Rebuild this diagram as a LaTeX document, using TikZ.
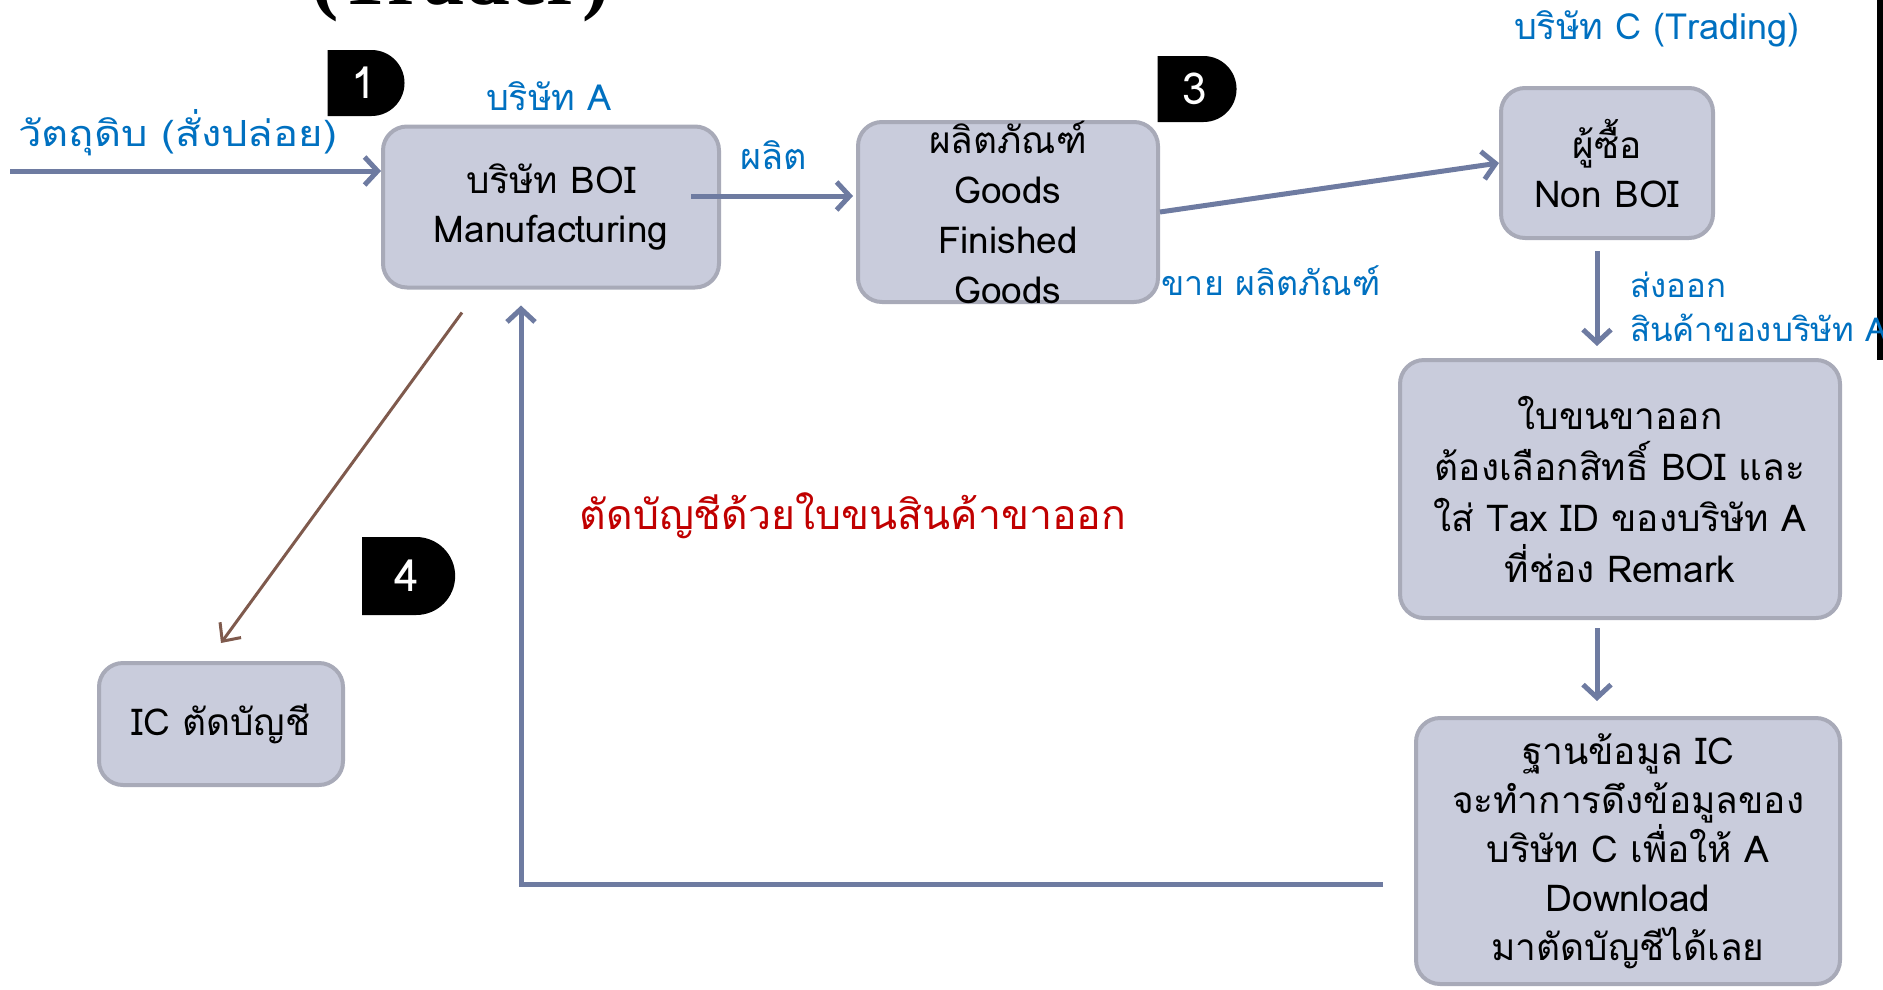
\documentclass[tikz,border=0pt]{standalone}
\usepackage{fontspec}
\setmainfont{Loma}[Script=Thai]
\newfontfamily\widethai{Loma}[Script=Thai,FakeStretch=1.16]
\newfontfamily\titlefont{Liberation Serif}
\usetikzlibrary{positioning}
\usetikzlibrary{arrows}
\usetikzlibrary{arrows.meta}
\usetikzlibrary{shapes.misc}

\definecolor{boxfill}{HTML}{C9CCDC}
\definecolor{boxline}{HTML}{A8AAB8}
\definecolor{flowblue}{HTML}{6E7BA1}
\definecolor{labelblue}{HTML}{0070C0}
\definecolor{cutred}{HTML}{C00000}
\definecolor{brownline}{HTML}{7F5A4D}

\tikzset{
  box/.style={draw=boxline, fill=boxfill, line width=4pt, rounded corners=24pt,
    align=center, font=\fontsize{37}{49}\selectfont, inner sep=0pt},
  flow/.style={-{Straight Barb[length=13pt,width=28pt]}, draw=flowblue, line width=5pt},
  lbl/.style={text=labelblue, font=\fontsize{36}{44}\selectfont, inner sep=0pt},
  badge/.style={rounded rectangle, rounded rectangle west arc=none, fill=black,
    text=white, font=\fontsize{44}{44}\selectfont, minimum height=66pt, inner sep=0pt}
}

\begin{document}
\begin{tikzpicture}[x=1pt,y=-1pt]
		\clip (0,0) rectangle (1883,989);
		\node[font=\titlefont\bfseries\fontsize{82}{82}\selectfont, anchor=base west, inner sep=0pt] (title) at (311,4) {(Trader)};
		\fill[black] (1877,0) rectangle (1883,360);
		\node[box, minimum width=336pt, minimum height=161pt] (boi) at (551,207) {บริษัท BOI\\Manufacturing};
		\node[box, minimum width=300pt, minimum height=180pt, label={[align=center, font=\fontsize{37}{50}\selectfont]center:ผลิตภัณฑ์\\Goods\\Finished\\Goods}] (goods) [right of = boi, node distance=457pt, yshift=-5pt] {};
		\node[box, minimum width=212pt, minimum height=150pt] (buyer) [right of = goods, node distance=599pt, yshift=49pt] {ผู้ซื้อ\\Non BOI};
		\node[box, minimum width=440pt, minimum height=258pt, font=\fontsize{37}{51}\selectfont] (bill) [below of = buyer, node distance=326pt, xshift=13pt] {ใบขนขาออก\\ต้องเลือกสิทธิ์ BOI และ\\ใส่ Tax ID ของบริษัท A\\ที่ช่อง Remark};
		\node[box, minimum width=424pt, minimum height=266pt] (icdb) [below of = bill, node distance=362pt, xshift=8pt] {ฐานข้อมูล IC\\จะทำการดึงข้อมูลของ\\บริษัท C เพื่อให้ A\\Download\\มาตัดบัญชีได้เลย};
		\node[box, minimum width=244pt, minimum height=122pt] (ic) [below of = boi, node distance=517pt, xshift=-330pt] {IC ตัดบัญชี};
		% labels
		\node[lbl] (lbla) [above of = boi, node distance=111pt, xshift=-2pt] {บริษัท A};
		\node[lbl, anchor=west, font=\widethai\fontsize{36}{44}\selectfont] (lblraw) at (18,133) {วัตถุดิบ (สั่งปล่อย)};
		\node[lbl] (lblmake) at (774,155) {ผลิต};
		\node[lbl, font=\fontsize{34}{44}\selectfont] (lblsell) at (1271,281) {ขาย ผลิตภัณฑ์};
		\node[lbl] (lblc) at (1657,29) {บริษัท C (Trading)};
		\node[lbl, anchor=north west, align=left, font=\fontsize{33}{44}\selectfont] (lblexport) at (1630,272) {ส่งออก\\สินค้าของบริษัท A};
		\node[text=cutred, font=\fontsize{41}{44}\selectfont, inner sep=0pt] (cutnote) at (853,516) {ตัดบัญชีด้วยใบขนสินค้าขาออก};
		% step numbers
		\node[badge, minimum width=77pt] (n1) at (364,83) {1};
		\node[badge, minimum width=79pt] (n3) at (1195,89) {3};
		\node[badge, minimum width=93pt, minimum height=78pt] (n4) at (407,576) {4};
		% connectors
		\coordinate (rawin) at (10,171);
		\draw[flow] (rawin) -- (rawin -| boi.west);
		\draw[flow] ([xshift=-30pt,yshift=11pt]boi.east) -- ([xshift=-3pt,yshift=16pt]goods.west);
		\draw[flow] (goods.east) -- (buyer.west);
		\draw[flow, shorten <=11pt, shorten >=12pt] ([xshift=-10pt]buyer.south) -- ([xshift=-10pt]buyer.south |- bill.north);
		\draw[flow, shorten <=8pt, shorten >=15pt] ([xshift=-23pt]bill.south) -- ([xshift=-23pt]bill.south |- icdb.north);
		\draw[flow] ([xshift=-31pt,yshift=-33pt]icdb.west) -| ([xshift=-30pt,yshift=-16pt]boi.south);
		\draw[-{Straight Barb[length=14pt,width=26pt]}, draw=brownline, line width=3pt] ([xshift=-89pt,yshift=-23pt]boi.south) -- ([yshift=18pt]ic.north);
\end{tikzpicture}
\end{document}
